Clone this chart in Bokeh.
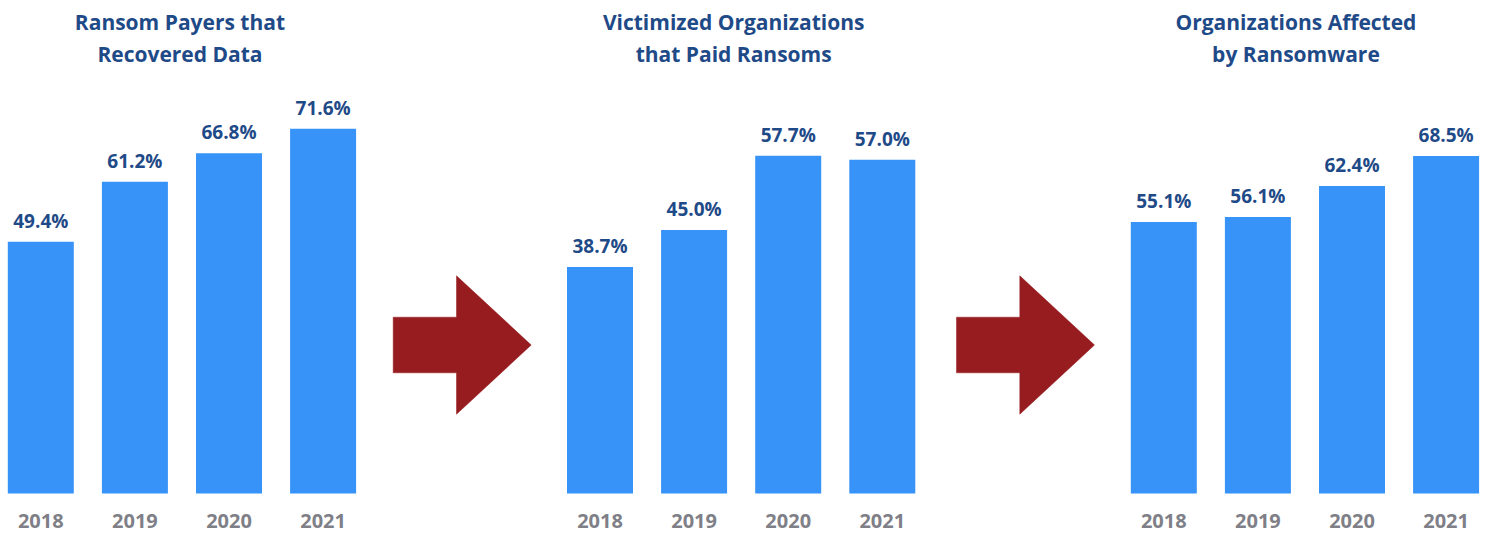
from bokeh.plotting import figure
from bokeh.models import Range1d, ColumnDataSource
from bokeh.core.properties import value
from bokeh.embed import file_html
from bokeh.resources import INLINE

# ---- data ----
years = ["2018", "2019", "2020", "2021"]
titles = [
    ["Ransom Payers that", "Recovered Data"],
    ["Victimized Organizations", "that Paid Ransoms"],
    ["Organizations Affected", "by Ransomware"],
]
recovered = [49.4, 61.2, 66.8, 71.6]
paid = [38.7, 45.0, 57.7, 57.0]
affected = [55.1, 56.1, 62.4, 68.5]
series = [recovered, paid, affected]

# ---- styles / layout ----
FONT = value("Open Sans")
BAR = "#3793f7"
NAVY = "#1f4a88"
GRAY = "#7f7f88"
RED = "#961c1f"

W, H = 1488, 533
X0, Y0 = 0, 0
BASE = 493                         # image y of bar baseline
panel_first = [40.3, 599.5, 1163.3]
spacing = 94.1
bar_w = 66
scales = [5.095, 5.855, 4.927]     # px per percent point
title_shift = [-2, -7.5, -9]
TXT_FIX = -8                       # text baseline correction

p = figure(width=W, height=H, x_range=Range1d(X0, X0 + W), y_range=Range1d(Y0 + H, Y0),
           output_backend="svg", toolbar_location=None, min_border=0,
           x_axis_type=None, y_axis_type=None)
p.grid.visible = False
p.outline_line_color = None
p.background_fill_color = "white"
p.border_fill_color = "white"

for k, vals in enumerate(series):
    s = scales[k]
    rname = f"p{k}"
    p.extra_y_ranges[rname] = Range1d(-(Y0 + H - BASE) / s, (BASE - Y0) / s)
    xs = [panel_first[k] + i * spacing for i in range(len(vals))]
    src = ColumnDataSource(dict(x=xs, top=vals, zero=[0] * len(vals),
                                lab=[f"{v:.1f}%" for v in vals], yr=years))
    p.vbar(x="x", top="top", bottom=0, width=bar_w, source=src, y_range_name=rname,
           fill_color=BAR, line_color=None)
    p.text(x="x", y="top", text="lab", source=src, y_range_name=rname,
           text_align="center", text_baseline="alphabetic", y_offset=-13 + TXT_FIX,
           text_font=FONT, text_font_style="bold", text_font_size="19px", text_color=NAVY)
    p.text(x="x", y="zero", text="yr", source=src, y_range_name=rname,
           text_align="center", text_baseline="alphabetic", y_offset=35 + TXT_FIX,
           text_font=FONT, text_font_style="bold", text_font_size="20px", text_color=GRAY)
    cx = (xs[0] + xs[-1]) / 2 + title_shift[k]
    p.text(x=[cx, cx], y=[29 + TXT_FIX, 61 + TXT_FIX], text=titles[k], text_align="center",
           text_baseline="alphabetic", text_font=FONT, text_font_style="bold",
           text_font_size="21px", text_color=NAVY)

# ---- arrows between panels ----
arrow_left = [392.7, 956]
cy = 344.5
shaft_len, head_len = 63.3, 74.7
shaft_h, head_h = 27.8, 69.2
for ax in arrow_left:
    xs = [ax, ax + shaft_len, ax + shaft_len, ax + shaft_len + head_len,
          ax + shaft_len, ax + shaft_len, ax]
    ys = [cy - shaft_h, cy - shaft_h, cy - head_h, cy, cy + head_h, cy + shaft_h, cy + shaft_h]
    p.patch(xs, ys, fill_color=RED, line_color=RED, line_width=0.5)

open("out.html", "w").write(file_html(p, INLINE))
